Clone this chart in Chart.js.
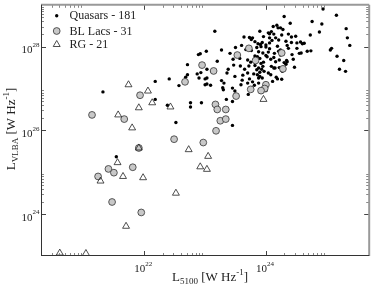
<!doctype html>
<html>
<head>
<meta charset="utf-8">
<title>L_VLBA vs L_5100</title>
<script src="https://cdn.jsdelivr.net/npm/chart.js@4.4.1/dist/chart.umd.min.js"></script>
<style>
  body { margin: 0; background: #fff; }
  #chart { display: block; }
</style>
</head>
<body>
<canvas id="chart" width="374" height="284"></canvas>
<script>
// values are log10 of the luminosities
var quasarLogX = [
  24.94,25.16,24.76,24.92,25.32,24.88,24.73,25.34,25.38,24.57,
  24.60,24.63,25.08,25.06,24.58,24.74,25.17,25.28,25.21,25.31,
  24.30,24.40,24.18,24.12,24.20,24.24,23.90,24.28,24.09,24.04,
  24.06,24.13,24.37,23.64,23.73,23.78,23.76,24.06,24.16,24.42,
  24.49,24.21,24.10,24.33,24.42,24.51,23.60,23.87,23.91,23.94,
  24.00,24.06,23.85,23.92,24.00,24.06,24.19,24.24,24.35,24.51,
  24.55,23.76,23.88,23.95,24.04,24.14,23.82,23.86,23.90,24.02,
  24.08,23.57,23.70,24.24,24.34,23.75,23.84,23.92,23.96,24.16,
  24.30,23.58,23.72,23.82,23.88,23.95,23.85,23.90,23.97,24.09,
  24.13,24.22,24.35,24.27,23.70,23.80,23.86,23.90,23.88,23.94,
  23.73,23.61,23.70,23.78,23.59,24.11,24.19,24.08,23.99,23.88,
  23.81,23.16,23.02,22.89,22.92,22.71,23.27,22.57,22.68,22.71,
  22.76,22.94,22.93,22.87,23.03,23.00,23.03,23.09,23.27,23.31,
  23.29,23.30,23.50,23.46,23.47,23.49,23.45,23.35,23.41,23.38,
  23.03,23.11,22.90,23.00,23.49,23.45,23.71,23.45,22.76,21.32,
  22.18,22.41,22.18,22.38,22.52,21.54,24.43,24.33,24.22,24.26,
  24.17,24.15,24.45,24.68,23.67,23.82,23.96,24.26,24.37,24.00,
  24.13,23.65,23.77,24.00,24.04,23.62,24.21,23.93,23.20,23.36,
  24.47
];
var quasarLogY = [
  28.90,28.75,28.60,28.54,28.43,28.35,28.28,28.21,28.03,28.11,
  28.07,28.08,27.96,27.92,27.85,27.90,27.77,27.67,27.46,27.41,
  28.72,28.56,28.51,28.48,28.45,28.45,28.37,28.41,28.36,28.33,
  28.31,28.30,28.30,28.23,28.22,28.21,28.17,28.21,28.21,28.23,
  28.25,28.16,28.15,28.13,28.10,28.09,28.03,28.07,28.05,28.10,
  28.04,28.09,27.98,28.00,27.99,27.95,28.01,27.92,28.03,27.96,
  27.84,27.91,27.88,27.85,27.87,27.84,27.78,27.76,27.72,27.76,
  27.70,27.72,27.68,27.80,27.67,27.63,27.65,27.60,27.63,27.64,
  27.62,27.54,27.54,27.55,27.49,27.53,27.45,27.39,27.41,27.53,
  27.49,27.50,27.64,27.41,27.37,27.35,27.33,27.29,27.25,27.25,
  27.23,27.20,27.13,27.16,27.09,27.17,27.23,27.33,27.13,27.13,
  27.08,28.37,27.89,27.81,27.83,27.57,27.92,27.07,27.27,27.33,
  26.66,26.66,27.38,27.35,27.25,27.09,27.11,27.08,27.19,27.13,
  27.02,26.97,27.98,27.70,27.56,27.29,27.01,26.74,27.84,27.46,
  27.46,27.41,27.25,27.23,26.94,26.69,26.86,26.12,26.56,26.92,
  27.17,27.23,26.74,26.60,26.19,25.37,27.81,27.58,27.68,27.22,
  27.27,27.49,27.70,27.89,27.93,28.12,28.24,28.28,27.96,27.79,
  27.74,27.46,26.99,26.95,27.37,27.32,27.89,27.46,27.65,27.37,
  27.51
];
var bllacLogX = [21.14,21.93,21.67,22.49,22.67,21.91,21.41,21.50,21.81,21.24,21.47,21.95,22.97,23.53,23.72,23.83,
  24.26,24.28,22.95,23.14,24.00,23.98,23.92,23.75,23.51,23.17,23.20,23.34,23.25,23.34,23.18];
var bllacLogY = [26.37,26.84,26.27,25.79,27.16,25.58,25.08,24.99,25.12,24.90,24.29,24.04,25.71,27.80,27.96,27.67,
  27.85,27.47,27.56,27.42,27.09,27.00,26.95,26.98,26.82,26.62,26.50,26.50,26.23,26.27,25.99];
var rgLogX = [21.74,22.06,21.91,22.13,22.43,21.57,21.80,21.91,21.56,21.28,21.65,21.98,22.52,21.70,20.61,21.04,
  22.73,23.05,22.92,23.03,23.96];
var rgLogY = [27.09,26.94,26.54,26.66,26.56,26.37,26.06,25.58,25.23,24.79,24.90,24.87,24.50,23.71,23.07,23.06,
  25.54,25.38,25.13,25.07,26.74];

var seriesNames = ['Quasars - 181', 'BL Lacs - 31', 'RG - 21'];
var xLimits = [2e20, 5e25];
var yLimits = [1e23, 1e29];
var xTickDecades = [20, 22, 24];   // major ticks, with 2..9 minors after each
var yTickDecades = [24, 26, 28];
var xLabelExps = [22, 24];
var yLabelExps = [24, 26, 28];

var FONT = '"Liberation Serif", "Times New Roman", serif';

function toPoints(lx, ly) {
    var pts = [];
    for (var i = 0; i < lx.length; i++) {
        pts.push({ x: Math.pow(10, lx[i]), y: Math.pow(10, ly[i]) });
    }
    return pts;
}

function seg(ctx, x1, y1, x2, y2) {
    ctx.beginPath();
    ctx.moveTo(x1, y1);
    ctx.lineTo(x2, y2);
    ctx.stroke();
}

function marker(ctx, style, x, y) {
    ctx.beginPath();
    if (style == 'dot') {
        ctx.fillStyle = '#000';
        ctx.arc(x, y, 1.7, 0, Math.PI * 2);
        ctx.fill();
    } else if (style == 'circle') {
        ctx.fillStyle = '#c8c8c8';
        ctx.strokeStyle = '#333';
        ctx.lineWidth = 0.8;
        ctx.arc(x, y, 3.4, 0, Math.PI * 2);
        ctx.fill();
        ctx.stroke();
    } else {
        var r = 4;
        ctx.strokeStyle = '#222';
        ctx.lineWidth = 0.8;
        ctx.moveTo(x, y - r);
        ctx.lineTo(x + r * 0.866, y + r * 0.5);
        ctx.lineTo(x - r * 0.866, y + r * 0.5);
        ctx.closePath();
        ctx.stroke();
    }
}

// draw "10" with a raised exponent; xRight = right end of the "10"
function powLabel(ctx, exp, xRight, yMid) {
    ctx.textBaseline = 'middle';
    ctx.textAlign = 'right';
    ctx.font = '11px ' + FONT;
    ctx.fillText('10', xRight, yMid);
    ctx.textAlign = 'left';
    ctx.font = '7px ' + FONT;
    ctx.fillText(String(exp), xRight, yMid - 5);
}

// sequence of [text, size, dy] pieces, drawn left to right from x
function richText(ctx, parts, x, y) {
    ctx.textAlign = 'left';
    ctx.textBaseline = 'alphabetic';
    parts.forEach(function (p) {
        ctx.font = p[1] + 'px ' + FONT;
        ctx.fillText(p[0], x, y + p[2]);
        x += ctx.measureText(p[0]).width;
    });
}

function richWidth(ctx, parts) {
    var w = 0;
    parts.forEach(function (p) {
        ctx.font = p[1] + 'px ' + FONT;
        w += ctx.measureText(p[0]).width;
    });
    return w;
}

var framePlugin = {
    id: 'frame',
    afterDraw: function (chart) {
        var ctx = chart.ctx;
        var a = chart.chartArea;
        var xs = chart.scales.x, ys = chart.scales.y;
        ctx.save();

        // inward ticks on all four sides
        ctx.lineWidth = 1;
        xTickDecades.forEach(function (n) {
            for (var k = 1; k <= 9; k++) {
                var v = k * Math.pow(10, n);
                var p = xs.getPixelForValue(v);
                if (p <= a.left + 1 || p >= a.right - 1) continue;
                p = Math.round(p) + 0.5;
                var len = k == 1 ? 5 : 3;
                ctx.strokeStyle = k == 1 ? '#444' : '#888';
                seg(ctx, p, a.bottom, p, a.bottom - len);
                seg(ctx, p, a.top, p, a.top + len);
            }
        });
        yTickDecades.forEach(function (n) {
            for (var k = 1; k <= 9; k++) {
                var v = k * Math.pow(10, n);
                var p = ys.getPixelForValue(v);
                if (p <= a.top + 1 || p >= a.bottom - 1) continue;
                p = Math.round(p) + 0.5;
                var len = k == 1 ? 5 : 3;
                ctx.strokeStyle = k == 1 ? '#444' : '#888';
                seg(ctx, a.left, p, a.left + len, p);
                seg(ctx, a.right, p, a.right - len, p);
            }
        });

        // frame
        ctx.strokeStyle = '#999';
        ctx.lineWidth = 2;
        seg(ctx, a.left, a.top, a.right, a.top);
        seg(ctx, a.right, a.top, a.right, a.bottom);
        ctx.strokeStyle = '#333';
        ctx.lineWidth = 1;
        seg(ctx, a.left + 0.5, a.top, a.left + 0.5, a.bottom);
        seg(ctx, a.left, a.bottom - 0.5, a.right, a.bottom - 0.5);

        // tick labels
        ctx.fillStyle = '#222';
        xLabelExps.forEach(function (e) {
            var p = xs.getPixelForValue(Math.pow(10, e));
            powLabel(ctx, e, p + 1, a.bottom + 13);
        });
        yLabelExps.forEach(function (e) {
            var p = ys.getPixelForValue(Math.pow(10, e));
            ctx.font = '7px ' + FONT;
            var we = ctx.measureText(String(e)).width;
            powLabel(ctx, e, a.left - 1.5 - we, p + 3.5);
        });

        // axis titles
        var xTitle = [['L', 13, 0], ['5100', 9, 3], [' [W Hz', 13, 0], ['-1', 9, -6], [']', 13, 0]];
        var xw = richWidth(ctx, xTitle);
        richText(ctx, xTitle, 210 - xw / 2, 281);

        var yTitle = [['L', 13, 0], ['VLBA', 9, 3], [' [W Hz', 13, 0], ['-1', 9, -6], [']', 13, 0]];
        var yw = richWidth(ctx, yTitle);
        ctx.save();
        ctx.translate(15, 129);
        ctx.rotate(-Math.PI / 2);
        richText(ctx, yTitle, -yw / 2, 0);
        ctx.restore();

        // legend
        var styles = ['dot', 'circle', 'triangle'];
        var rows = [15.7, 31, 44.5];
        for (var i = 0; i < 3; i++) {
            marker(ctx, styles[i], 56.7, rows[i]);
            ctx.fillStyle = '#222';
            ctx.font = '12px ' + FONT;
            ctx.textAlign = 'left';
            ctx.textBaseline = 'middle';
            ctx.fillText(seriesNames[i], 69.5, rows[i] + 0.5);
        }
        ctx.restore();
    }
};

new Chart(document.getElementById('chart'), {
    type: 'scatter',
    data: {
        datasets: [{
            label: seriesNames[0],
            data: toPoints(quasarLogX, quasarLogY),
            pointStyle: 'circle',
            pointRadius: 1.7,
            pointBorderWidth: 0,
            backgroundColor: '#000',
            borderColor: '#000',
            clip: false,
            order: 3
        }, {
            label: seriesNames[1],
            data: toPoints(bllacLogX, bllacLogY),
            pointStyle: 'circle',
            pointRadius: 3.4,
            pointBorderWidth: 0.8,
            backgroundColor: '#c8c8c8',
            borderColor: '#333',
            clip: false,
            order: 2
        }, {
            label: seriesNames[2],
            data: toPoints(rgLogX, rgLogY),
            pointStyle: 'triangle',
            pointRadius: 4,
            pointBorderWidth: 0.8,
            backgroundColor: 'rgba(0,0,0,0)',
            borderColor: '#222',
            clip: false,
            order: 1
        }]
    },
    options: {
        responsive: false,
        animation: false,
        layout: { padding: { left: 41, right: 2, top: 1, bottom: 28 } },
        plugins: {
            legend: { display: false },
            tooltip: { enabled: false }
        },
        scales: {
            x: { type: 'logarithmic', min: xLimits[0], max: xLimits[1], display: false },
            y: { type: 'logarithmic', min: yLimits[0], max: yLimits[1], display: false }
        }
    },
    plugins: [framePlugin]
});
</script>
</body>
</html>
